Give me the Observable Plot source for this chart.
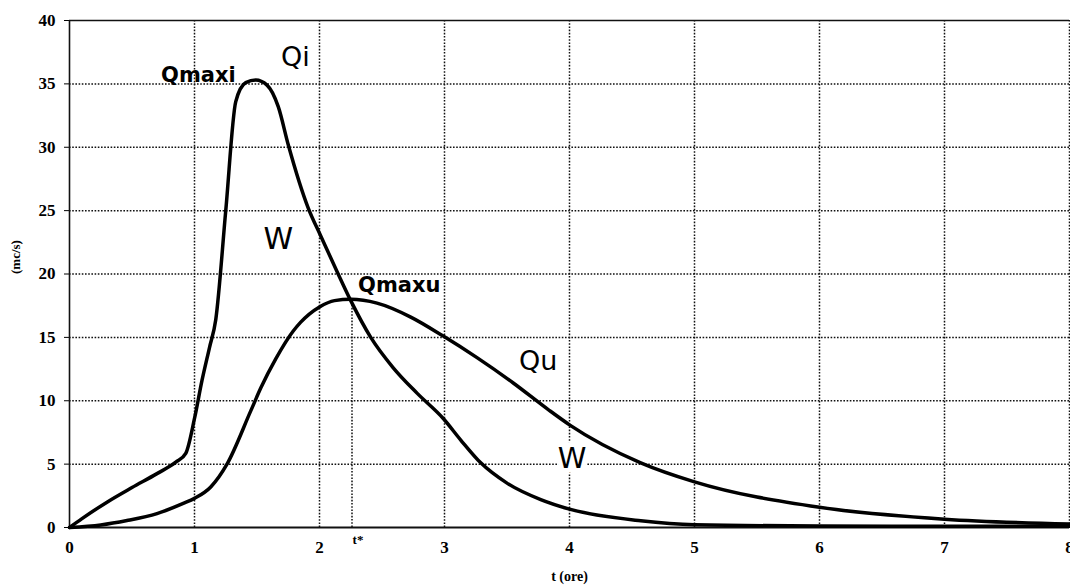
<!DOCTYPE html>
<html><head><meta charset="utf-8">
<script src="https://cdn.jsdelivr.net/npm/d3@7"></script>
<script src="https://cdn.jsdelivr.net/npm/@observablehq/plot@0.6"></script>
<style>
body{margin:0;background:#fff;}
#chart svg{display:block;}
</style></head><body><div id="chart"></div>
<script>
// Inflow hydrograph Qi (t in hours, Q in mc/s)
const qiT = [0, 0.1, 0.3, 0.5, 0.7, 0.85, 0.93, 1.0, 1.06, 1.12, 1.17, 1.25, 1.33, 1.41, 1.49, 1.58, 1.67, 1.75, 1.91, 2.01, 2.14, 2.25, 2.41, 2.59, 2.78, 2.99, 3.13, 3.29, 3.5, 3.77, 4.0, 4.57, 5.0, 6.0, 7.0, 8.0];
const qiV = [0, 0.7, 2.0, 3.15, 4.25, 5.15, 5.85, 8.6, 11.6, 14.2, 16.4, 25.0, 33.6, 35.1, 35.3, 34.9, 33.2, 30.2, 25.2, 23.0, 20.2, 17.9, 15.0, 12.6, 10.6, 8.6, 6.9, 5.1, 3.5, 2.2, 1.45, 0.53, 0.22, 0.12, 0.1, 0.1];
// Outflow hydrograph Qu
const quT = [0, 0.25, 0.46, 0.7, 0.91, 1.0, 1.13, 1.26, 1.45, 1.53, 1.65, 1.79, 1.85, 2.0, 2.12, 2.25, 2.46, 2.73, 2.99, 3.26, 3.55, 3.83, 4.0, 4.57, 5.0, 6.0, 7.0, 8.0];
const quV = [0, 0.2, 0.55, 1.1, 1.9, 2.3, 3.2, 5.0, 9.2, 11.0, 13.3, 15.5, 16.2, 17.4, 17.9, 18.0, 17.7, 16.6, 15.1, 13.4, 11.4, 9.3, 8.1, 5.1, 3.6, 1.6, 0.66, 0.27];

const xTicks = [0, 1, 2, 3, 4, 5, 6, 7, 8];
const yTicks = [0, 5, 10, 15, 20, 25, 30, 35, 40];
const xLabel = "t (ore)";
const yLabel = "(mc/s)";

// annotations (data coordinates)
const peakText = ["Qmaxi", "Qmaxu"];
const peakT = [1.031, 2.638];
const peakQ = [35.7, 19.1];
const curveText = ["Qi", "W", "Qu"];
const curveT = [1.806, 1.671, 3.749];
const curveQ = [37.1, 22.7, 13.1];
const volText = ["W"];
const volT = [4.02];
const volQ = [5.45];
const tStar = 2.26;
const qStar = 17.95;
const tStarText = ["t*"];

const qi = qiT.map((t, i) => ({t, q: qiV[i]}));
const qu = quT.map((t, i) => ({t, q: quV[i]}));
const mk = (txt, T, Q) => txt.map((s, i) => ({s, t: T[i], q: Q[i]}));

const grid = {stroke: "#111", strokeDasharray: "1.6,1.6", strokeWidth: 1.5};
const sans = "'DejaVu Sans', sans-serif";
const serif = "'Liberation Serif', serif";

const chart = Plot.plot({
  width: 1070, height: 586,
  marginLeft: 69, marginRight: 1, marginTop: 20, marginBottom: 59,
  style: {fontFamily: serif, fontWeight: "bold", fontSize: "17px", background: "#fff", color: "#000", overflow: "visible"},
  x: {domain: [0, 8], ticks: xTicks, tickSize: 0, tickPadding: 13, label: null},
  y: {domain: [0, 40], ticks: yTicks, tickSize: 5, tickPadding: 9, label: null},
  marks: [
    Plot.ruleY(yTicks.filter(v => v > 0 && v < 40), grid),
    Plot.ruleX(xTicks.filter(v => v > 0), grid),
    Plot.ruleX([tStar], {y1: 0, y2: qStar, ...grid}),
    Plot.ruleY([40], {stroke: "#111", strokeWidth: 1.6}),
    Plot.ruleX([0], {stroke: "#111", strokeWidth: 1.6}),
    Plot.ruleY([0], {stroke: "#111", strokeWidth: 2}),
    Plot.line(qu, {x: "t", y: "q", stroke: "#000", strokeWidth: 3.5, curve: "monotone-x"}),
    Plot.line(qi, {x: "t", y: "q", stroke: "#000", strokeWidth: 3.5, curve: "monotone-x"}),
    Plot.text(mk(peakText, peakT, peakQ), {x: "t", y: "q", text: "s", fontFamily: sans, fontWeight: "bold", fontSize: 21, fill: "#000"}),
    Plot.text(mk(curveText, curveT, curveQ), {x: "t", y: "q", text: "s", fontFamily: sans, fontWeight: "normal", fontSize: d => d.s === "W" ? 30 : 27, fill: "#000"}),
    Plot.text(mk(volText, volT, volQ), {x: "t", y: "q", text: "s", fontFamily: sans, fontWeight: "normal", fontSize: 29, fill: "#000", stroke: "#fff", strokeWidth: 10}),
    Plot.text(tStarText, {x: tStar, y: 0, text: d => d, dy: 12, dx: 6, fontFamily: serif, fontSize: 13, fontWeight: "bold", fill: "#000"}),
    Plot.text([xLabel], {frameAnchor: "bottom", dy: 53, text: d => d, fontFamily: serif, fontSize: 14, fontWeight: "bold", fill: "#000"}),
    Plot.text([yLabel], {frameAnchor: "left", dx: -54, rotate: -90, text: d => d, fontFamily: serif, fontSize: 13, fontWeight: "bold", fill: "#000"})
  ]
});
document.getElementById("chart").append(chart);
</script></body></html>
